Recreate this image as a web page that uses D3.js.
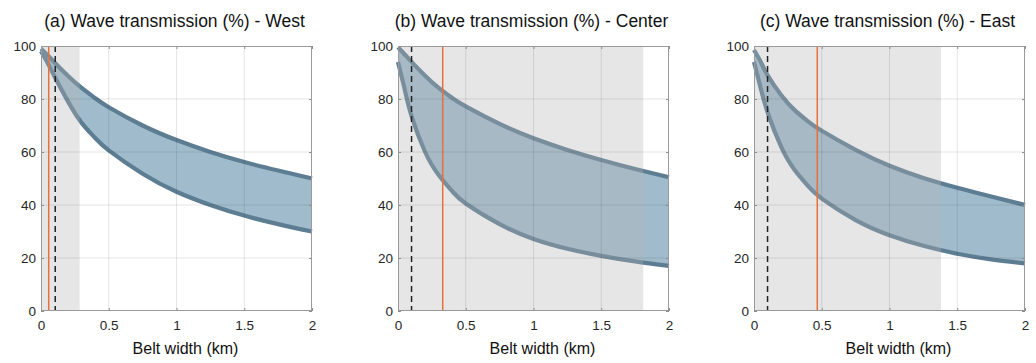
<!DOCTYPE html>
<html>
<head>
<meta charset="utf-8">
<script src="https://cdn.jsdelivr.net/npm/d3@7"></script>
<style>
  body { margin: 0; background: #fff; }
  svg { font-family: "Liberation Sans", Arial, Helvetica, sans-serif; }
</style>
</head>
<body>
<div id="chart"></div>
<script>
const beltKm = [0, 0.05, 0.1, 0.2, 0.3, 0.4, 0.5, 0.75, 1, 1.25, 1.5, 1.75, 2];

// wave transmission (%) upper / lower bounds per site
const westUpper   = [99, 96.5, 93.8, 88.7, 84.2, 80.3, 76.9, 70, 64.5, 60, 56.2, 53, 50];
const westLower   = [98, 93.5, 88.5, 79, 71, 65.3, 60.6, 51.8, 45, 40, 36, 32.8, 30];
const centerUpper = [99.5, 96.8, 94, 88.8, 84.2, 80.4, 77.2, 70.6, 65.2, 60.8, 57, 53.6, 50.5];
const centerLower = [94, 83.5, 73.5, 60, 51.3, 45.2, 40.6, 32.8, 27.2, 23.5, 20.8, 18.7, 17];
const eastUpper   = [98.5, 94, 89, 81.5, 75.8, 71.5, 68, 60.8, 54.8, 50.2, 46.5, 43.2, 40];
const eastLower   = [94, 84, 75, 62, 53.2, 47.1, 42.4, 34.3, 28.6, 24.6, 21.6, 19.5, 18];

const titles = [
  "(a) Wave transmission (%) - West",
  "(b) Wave transmission (%) - Center",
  "(c) Wave transmission (%) - East"
];
const shadeEnd = [0.285, 1.81, 1.38];   // grey band from 0 to here
const orangeX  = [0.057, 0.33, 0.467];  // solid orange marker
const dashedX  = [0.105, 0.1, 0.1];     // dashed black marker

const xTicks = [0, 0.5, 1, 1.5, 2];
const yTicks = [0, 20, 40, 60, 80, 100];

const uppers = [westUpper, centerUpper, eastUpper];
const lowers = [westLower, centerLower, eastLower];

const width = 1036, height = 363;
const panelLeft = [41, 398, 754];
const pw = 271, plotTop = 46, plotBottom = 311;

const svg = d3.select("#chart").append("svg")
    .attr("width", width)
    .attr("height", height);

const curve = d3.curveNatural;

titles.forEach((title, i) => {
  const x = d3.scaleLinear().domain([0, 2]).range([panelLeft[i], panelLeft[i] + pw]);
  const y = d3.scaleLinear().domain([0, 100]).range([plotBottom, plotTop]);
  const g = svg.append("g");

  const pts = beltKm.map((d, j) => ({ x: d, hi: uppers[i][j], lo: lowers[i][j] }));

  const area = d3.area()
      .curve(curve)
      .x(d => x(d.x))
      .y0(d => y(d.lo))
      .y1(d => y(d.hi));

  const lineHi = d3.line().curve(curve).x(d => x(d.x)).y(d => y(d.hi));
  const lineLo = d3.line().curve(curve).x(d => x(d.x)).y(d => y(d.lo));

  g.append("path")
      .datum(pts)
      .attr("fill", "#a0bccc")
      .attr("d", area);

  [lineHi, lineLo].forEach(l => {
    g.append("path")
        .datum(pts)
        .attr("fill", "none")
        .attr("stroke", "#5d7d93")
        .attr("stroke-width", 4.2)
        .attr("stroke-linejoin", "round")
        .attr("d", l);
  });

  // grey shaded range, drawn on top of the band
  g.append("rect")
      .attr("x", x(0))
      .attr("y", plotTop)
      .attr("width", x(shadeEnd[i]) - x(0))
      .attr("height", plotBottom - plotTop)
      .attr("fill", "#b2b2b2")
      .attr("fill-opacity", 0.33);

  // grid
  g.selectAll(".gx").data(xTicks.slice(1, -1)).join("line")
      .attr("x1", d => x(d)).attr("x2", d => x(d))
      .attr("y1", plotTop).attr("y2", plotBottom)
      .attr("stroke", "#262626").attr("stroke-opacity", 0.12);
  g.selectAll(".gy").data(yTicks.slice(1, -1)).join("line")
      .attr("x1", x(0)).attr("x2", x(2))
      .attr("y1", d => y(d)).attr("y2", d => y(d))
      .attr("stroke", "#262626").attr("stroke-opacity", 0.12);

  g.append("line")
      .attr("x1", x(orangeX[i])).attr("x2", x(orangeX[i]))
      .attr("y1", plotTop).attr("y2", plotBottom)
      .attr("stroke", "#e8703a").attr("stroke-width", 1.5);

  g.append("line")
      .attr("x1", x(dashedX[i])).attr("x2", x(dashedX[i]))
      .attr("y1", plotTop).attr("y2", plotBottom)
      .attr("stroke", "#222").attr("stroke-width", 1.5)
      .attr("stroke-dasharray", "6,4");

  // axes with inward ticks on all sides
  const styleAxis = a => {
    a.select(".domain").remove();
    a.selectAll(".tick line").attr("stroke", "#8c8c8c");
    a.selectAll("text").attr("fill", "#262626").style("font-size", "13.5px").style("font-family", null);
  };

  g.append("g")
      .attr("transform", `translate(0,${plotBottom})`)
      .call(d3.axisBottom(x).tickValues(xTicks).tickFormat(d3.format("")).tickSize(-3).tickPadding(9))
      .call(styleAxis);
  g.append("g")
      .attr("transform", `translate(0,${plotTop})`)
      .call(d3.axisTop(x).tickValues(xTicks).tickSize(-3).tickFormat(""))
      .call(styleAxis);
  g.append("g")
      .attr("transform", `translate(${x(0)},0)`)
      .call(d3.axisLeft(y).tickValues(yTicks).tickSize(-3).tickPadding(5))
      .call(styleAxis);
  g.append("g")
      .attr("transform", `translate(${x(2)},0)`)
      .call(d3.axisRight(y).tickValues(yTicks).tickSize(-3).tickFormat(""))
      .call(styleAxis);

  g.append("rect")
      .attr("x", x(0) + 0.5).attr("y", plotTop + 0.5)
      .attr("width", pw - 1).attr("height", plotBottom - plotTop - 1)
      .attr("fill", "none")
      .attr("stroke", "#9a9a9a");

  g.append("text")
      .attr("x", (x(0) + x(2)) / 2 - 2)
      .attr("y", 27)
      .attr("text-anchor", "middle")
      .attr("fill", "#111")
      .style("font-size", "17.5px")
      .text(title);

  g.append("text")
      .attr("x", (x(0) + x(2)) / 2 + 9)
      .attr("y", 354)
      .attr("text-anchor", "middle")
      .attr("fill", "#111")
      .style("font-size", "16px")
      .text("Belt width (km)");
});
</script>
</body>
</html>
